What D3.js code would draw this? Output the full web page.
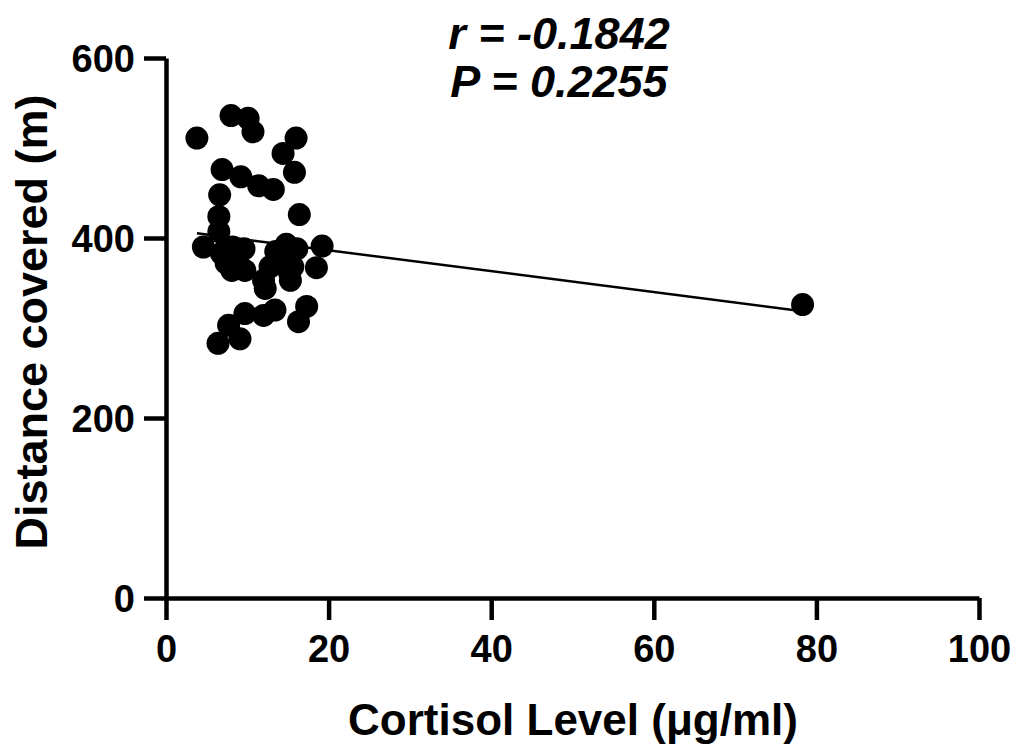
<!DOCTYPE html>
<html>
<head>
<meta charset="utf-8">
<script src="https://cdn.jsdelivr.net/npm/d3@7"></script>
<style>
  body { margin: 0; background: #fff; }
  svg { display: block; }
  text { font-family: "Liberation Sans", Arial, sans-serif; font-weight: bold; fill: #000; }
</style>
</head>
<body>
<svg id="scatterplot" width="1018" height="749"></svg>
<script>
// data
var cortisol = [3.8, 8.0, 10.1, 10.7, 16.0, 14.4, 6.9, 15.8, 9.2, 11.4, 13.2, 6.6, 16.4, 6.5, 6.5, 4.6, 19.2, 18.5,
                6.8, 8.2, 9.6, 8.8, 8.1, 9.7, 7.4,
                14.8, 16.1, 13.5, 12.8, 15.2, 12.0, 15.3, 12.2, 13.5, 14.0, 15.6,
                6.4, 9.1, 7.7, 9.7, 12.0, 13.4, 16.3, 17.3,
                78.3];
var distance = [511, 536, 533, 518, 511, 494, 476, 473, 468, 458, 454, 448, 426, 424, 407, 390, 391, 367,
                383, 390, 388, 378, 364, 364, 372,
                393, 388, 385, 368, 361, 353, 353, 344, 372, 380, 368,
                283, 288, 303, 316, 314, 320, 307, 324,
                326];
var xTicks = [0, 20, 40, 60, 80, 100];
var yTicks = [0, 200, 400, 600];
var fitSlope = -1.162;
var fitIntercept = 409.6;
var statLines = ["r = -0.1842", "P = 0.2255"];

var scatterplot = {};
scatterplot.svg = d3.select("#scatterplot");

scatterplot.x = d3.scaleLinear().domain([0, 100]).range([166, 979]);
scatterplot.y = d3.scaleLinear().domain([0, 600]).range([598, 58]);

scatterplot.yAxis = scatterplot.svg.append("g")
    .attr("transform", "translate(166,0)")
    .call(d3.axisLeft(scatterplot.y).tickValues(yTicks).tickSize(22).tickPadding(9).tickSizeOuter(0));

scatterplot.xAxis = scatterplot.svg.append("g")
    .attr("transform", "translate(0,598)")
    .call(d3.axisBottom(scatterplot.x).tickValues(xTicks).tickSize(22).tickPadding(15).tickSizeOuter(0));

[scatterplot.xAxis, scatterplot.yAxis].forEach(function(ax) {
    ax.select(".domain").attr("stroke", "#000").attr("stroke-width", 4.5);
    ax.selectAll(".tick line").attr("stroke", "#000").attr("stroke-width", 4.5);
    ax.selectAll(".tick text")
        .attr("font-size", 38)
        .attr("font-family", "Liberation Sans, Arial, sans-serif")
        .attr("font-weight", "bold")
        .attr("fill", "#000");
});
scatterplot.xAxis.selectAll(".tick text").attr("dy", "0.71em");
scatterplot.yAxis.selectAll(".tick text").attr("dy", "0.36em");

// fit line, drawn across the range of the data
var xExtent = d3.extent(cortisol);
scatterplot.svg.append("line")
    .attr("x1", scatterplot.x(xExtent[0]))
    .attr("y1", scatterplot.y(fitIntercept + fitSlope * xExtent[0]))
    .attr("x2", scatterplot.x(xExtent[1]))
    .attr("y2", scatterplot.y(fitIntercept + fitSlope * xExtent[1]))
    .attr("stroke", "#000")
    .attr("stroke-width", 2.5);

var points = cortisol.map(function(c, i) { return { cortisol: c, distance: distance[i] }; });

scatterplot.svg.selectAll("circle")
    .data(points)
    .enter().append("circle")
    .attr("cx", function(d) { return scatterplot.x(d.cortisol); })
    .attr("cy", function(d) { return scatterplot.y(d.distance); })
    .attr("r", 11.5)
    .style("fill", "#000");

// axis titles
scatterplot.svg.append("text")
    .attr("transform", "translate(47,322) rotate(-90)")
    .attr("text-anchor", "middle")
    .attr("font-size", 45)
    .text("Distance covered (m)");

scatterplot.svg.append("text")
    .attr("x", 573)
    .attr("y", 735)
    .attr("text-anchor", "middle")
    .attr("font-size", 44)
    .text("Cortisol Level (\u03bcg/ml)");

// correlation stats at the top
scatterplot.svg.selectAll(".stat")
    .data(statLines)
    .enter().append("text")
    .attr("class", "stat")
    .attr("x", 559)
    .attr("y", function(d, i) { return 49 + i * 48; })
    .attr("text-anchor", "middle")
    .attr("font-size", 45)
    .attr("font-style", "italic")
    .text(function(d) { return d; });
</script>
</body>
</html>
